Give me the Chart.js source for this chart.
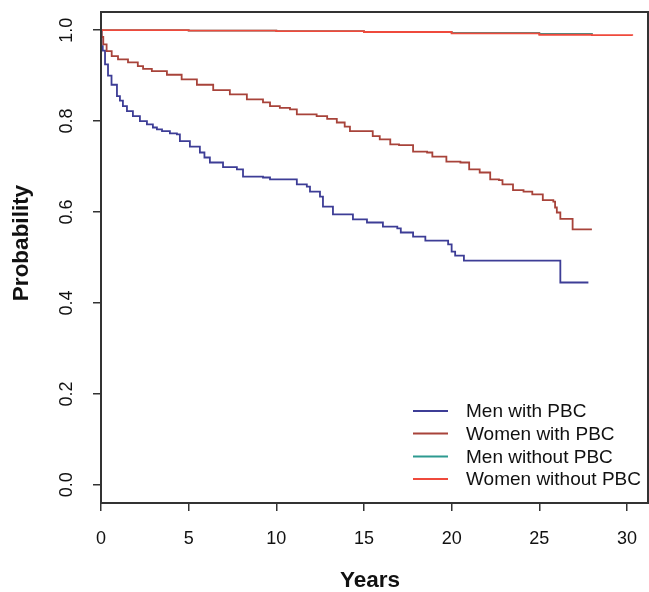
<!DOCTYPE html>
<html>
<head>
<meta charset="utf-8">
<script src="https://cdn.jsdelivr.net/npm/chart.js@4.4.1/dist/chart.umd.min.js"></script>
<style>
  body { margin: 0; background: #fff; }
  #wrap { width: 649px; height: 592px; }
</style>
</head>
<body>
<div id="wrap"><canvas id="km" width="649" height="592"></canvas></div>
<script>
// Axes
const X_TICKS = [0, 5, 10, 15, 20, 25, 30];
const Y_TICKS = [0, 0.2, 0.4, 0.6, 0.8, 1.0];

// Series names and colours
const SERIES_NAMES = ["Men with PBC", "Women with PBC", "Men without PBC", "Women without PBC"];
const SERIES_COLORS = ["#3d3d96", "#a8433a", "#2d9a90", "#ef4a3c"];

// Men with PBC (Kaplan-Meier, step changes)
const MEN_PBC_T = [0, 0.03, 0.1, 0.23, 0.4, 0.6, 0.91, 1.08, 1.25, 1.48, 1.82, 2.22, 2.62, 2.96, 3.19, 3.48, 3.93, 4.33, 4.5, 5.07, 5.64, 5.9, 6.21, 6.96, 7.75, 8.1, 9.24, 9.64, 11.17, 11.74, 11.92, 12.49, 12.66, 13.23, 14.37, 15.17, 16.08, 16.9, 17.1, 17.8, 18.5, 19.8, 20.0, 20.2, 20.7, 26.2, 27.8];
const MEN_PBC_S = [1.0, 0.965, 0.955, 0.925, 0.9, 0.88, 0.855, 0.845, 0.833, 0.822, 0.811, 0.8, 0.793, 0.786, 0.782, 0.778, 0.773, 0.771, 0.756, 0.744, 0.731, 0.72, 0.709, 0.699, 0.694, 0.678, 0.676, 0.672, 0.661, 0.656, 0.645, 0.634, 0.612, 0.595, 0.584, 0.577, 0.568, 0.564, 0.555, 0.546, 0.537, 0.529, 0.513, 0.504, 0.493, 0.445, 0.445];

// Women with PBC
const WOMEN_PBC_T = [0, 0.04, 0.13, 0.32, 0.61, 0.97, 1.54, 2.1, 2.4, 2.9, 3.76, 4.6, 5.47, 6.4, 7.35, 8.32, 9.24, 9.64, 10.2, 10.78, 11.17, 12.3, 12.9, 13.45, 13.9, 14.2, 15.5, 15.9, 16.5, 17.0, 17.8, 18.6, 18.9, 19.7, 20.5, 21.0, 21.6, 22.2, 22.7, 22.9, 23.5, 24.1, 24.6, 25.2, 25.8, 25.9, 26.0, 26.2, 26.9, 28.0];
const WOMEN_PBC_S = [1.0, 0.985, 0.969, 0.954, 0.943, 0.936, 0.929, 0.921, 0.915, 0.91, 0.902, 0.892, 0.88, 0.868, 0.859, 0.848, 0.841, 0.833, 0.829, 0.826, 0.815, 0.811, 0.805, 0.797, 0.788, 0.778, 0.767, 0.76, 0.749, 0.747, 0.733, 0.731, 0.722, 0.711, 0.709, 0.694, 0.687, 0.672, 0.67, 0.661, 0.648, 0.645, 0.639, 0.626, 0.623, 0.61, 0.599, 0.585, 0.562, 0.562];

// Men without PBC
const MEN_NO_T = [0, 5, 10, 15, 20, 25, 28.0];
const MEN_NO_S = [1.0, 0.999, 0.998, 0.996, 0.994, 0.992, 0.991];

// Women without PBC
const WOMEN_NO_T = [0, 5, 10, 15, 20, 25, 28.0, 30.3];
const WOMEN_NO_S = [1.0, 0.999, 0.998, 0.996, 0.993, 0.99, 0.989, 0.988];

const FONT = "'Liberation Sans', Arial, sans-serif";

function toPoints(ts, ss) {
  return ts.map((t, i) => ({ x: t, y: ss[i] }));
}

const allSeries = [
  toPoints(MEN_PBC_T, MEN_PBC_S),
  toPoints(WOMEN_PBC_T, WOMEN_PBC_S),
  toPoints(MEN_NO_T, MEN_NO_S),
  toPoints(WOMEN_NO_T, WOMEN_NO_S),
];

// Box, rotated y labels, axis titles and legend (R look)
const decorations = {
  id: "decorations",
  afterDraw(chart) {
    const ctx = chart.ctx;
    const area = chart.chartArea;
    const yScale = chart.scales.y;
    ctx.save();

    // frame
    ctx.strokeStyle = "#333";
    ctx.lineWidth = 2;
    ctx.strokeRect(area.left, area.top, area.right - area.left, area.bottom - area.top);

    // y tick labels, rotated
    ctx.fillStyle = "#111";
    ctx.font = "18px " + FONT;
    ctx.textAlign = "center";
    ctx.textBaseline = "middle";
    Y_TICKS.forEach((v) => {
      const y = yScale.getPixelForValue(v);
      ctx.save();
      ctx.translate(67, y);
      ctx.rotate(-Math.PI / 2);
      ctx.fillText(v.toFixed(1), 0, 0);
      ctx.restore();
    });

    // axis titles
    ctx.font = "bold 22.5px " + FONT;
    ctx.fillText("Years", 370, 581);
    ctx.save();
    ctx.translate(22, 243);
    ctx.rotate(-Math.PI / 2);
    ctx.fillText("Probability", 0, 0);
    ctx.restore();

    // legend
    ctx.font = "19px " + FONT;
    ctx.textAlign = "left";
    const rows = [411, 433.5, 456.5, 479];
    chart.data.datasets.forEach((ds, i) => {
      ctx.strokeStyle = ds.borderColor;
      ctx.lineWidth = 2;
      ctx.beginPath();
      ctx.moveTo(413, rows[i]);
      ctx.lineTo(448, rows[i]);
      ctx.stroke();
      ctx.fillStyle = "#111";
      ctx.fillText(ds.label, 466, rows[i] + 1);
    });
    ctx.restore();
  },
};

new Chart(document.getElementById("km").getContext("2d"), {
  type: "line",
  data: {
    datasets: allSeries.map((pts, i) => ({
      label: SERIES_NAMES[i],
      data: pts,
      borderColor: SERIES_COLORS[i],
      backgroundColor: SERIES_COLORS[i],
      borderWidth: 1.8,
      pointRadius: 0,
      stepped: "before",
      fill: false,
      order: 4 - i,
    })),
  },
  options: {
    responsive: false,
    animation: false,
    layout: { padding: { top: 12, right: 1, left: 0, bottom: 0 } },
    plugins: {
      legend: { display: false },
      tooltip: { enabled: false },
    },
    scales: {
      x: {
        type: "linear",
        min: 0,
        max: 31.2,
        afterBuildTicks: (s) => { s.ticks = X_TICKS.map((v) => ({ value: v })); },
        afterFit: (s) => {
          s.height = 89;
          s.paddingLeft = 0;
          s.paddingRight = 0;
        },
        ticks: {
          color: "#111",
          font: { family: FONT, size: 18 },
          padding: 17,
          maxRotation: 0,
        },
        grid: {
          drawOnChartArea: false,
          drawTicks: true,
          tickLength: 8,
          color: "#333",
          lineWidth: 1.5,
        },
        border: { display: false },
      },
      y: {
        type: "linear",
        min: -0.04,
        max: 1.04,
        afterBuildTicks: (s) => { s.ticks = Y_TICKS.map((v) => ({ value: v })); },
        afterFit: (s) => {
          s.width = 101;
          s.paddingTop = 0;
          s.paddingBottom = 0;
        },
        ticks: { color: "rgba(0,0,0,0)", font: { family: FONT, size: 18 } },
        grid: {
          drawOnChartArea: false,
          drawTicks: true,
          tickLength: 8,
          color: "#333",
          lineWidth: 1.5,
        },
        border: { display: false },
      },
    },
  },
  plugins: [decorations],
});
</script>
</body>
</html>
